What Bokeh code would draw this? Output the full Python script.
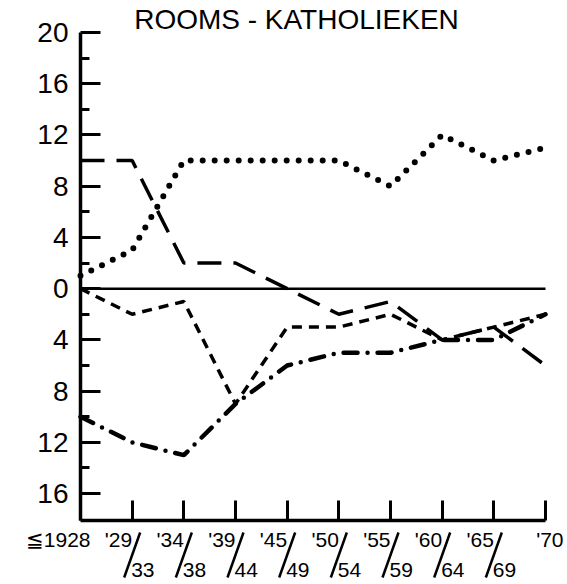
from bokeh.plotting import figure
from bokeh.models import Range1d, FixedTicker
from bokeh.core.properties import value
from bokeh.embed import file_html
from bokeh.resources import INLINE

# ---- data ----
periods = ["1928", "1929/33", "1934/38", "1939/44", "1945/49",
           "1950/54", "1955/59", "1960/64", "1965/69", "1970"]
top_labels = ["\u22661928", "'29", "'34", "'39", "'45", "'50", "'55",
              "'60", "'65", "'70"]
bottom_labels = ["", "33", "38", "44", "49", "54", "59", "64", "69", ""]

dotted = [1, 3, 10, 10, 10, 10, 8, 12, 10, 11]
long_dash = [10, 10, 2, 2, 0, -2, -1, -4, -3, -6]
short_dash = [0, -2, -1, -9, -3, -3, -2, -4, -3, -2]
dash_dot = [-10, -12, -13, -9, -6, -5, -5, -4, -4, -2]

y_major = [20, 16, 12, 8, 4, 0, -4, -8, -12, -16]
y_minor = [18, 14, 10, 6, 2, -2, -6, -10, -14]
y_low, y_high = -18.1, 20
title_text = "ROOMS - KATHOLIEKEN"

FONT = "Liberation Sans"
xs = list(range(len(periods)))
n = len(periods)

# ---- layout (frame fills whole canvas; axes placed at fixed locations) ----
W, H = 567, 584
left_px, right_px = 80, 545          # pixel of first / last category
top_px, bottom_px = 32, 520          # pixel of y_high / y_low
ppx = (right_px - left_px) / (n - 1)
ppy = (bottom_px - top_px) / (y_high - y_low)
x_start = xs[0] - left_px / ppx
x_end = x_start + W / ppx
y_end = y_high + top_px / ppy
y_start = y_end - H / ppy
BASE_FIX = 0.38   # baseline correction (fraction of font size)


def xpix(px):
    return x_start + px / ppx


def ypix(py, fs=0):
    return y_end - (py - BASE_FIX * fs) / ppy


p = figure(frame_width=W, frame_height=H, output_backend="svg",
           toolbar_location=None,
           x_range=Range1d(x_start, x_end), y_range=Range1d(y_start, y_end),
           min_border_left=0, min_border_right=0, min_border_top=0,
           min_border_bottom=0)
p.outline_line_color = None
p.grid.visible = False
p.background_fill_color = "white"
p.border_fill_color = "white"

# y axis
p.yaxis.fixed_location = xs[0]
p.yaxis.bounds = (y_low, y_high)
p.yaxis.ticker = FixedTicker(ticks=y_major, minor_ticks=y_minor)
p.yaxis.major_label_overrides = {v: str(abs(v)) for v in y_major}
p.yaxis.major_tick_in = 20
p.yaxis.major_tick_out = 0
p.yaxis.minor_tick_in = 9
p.yaxis.minor_tick_out = 0
p.yaxis.axis_line_width = 3.5
p.yaxis.major_tick_line_width = 3
p.yaxis.minor_tick_line_width = 3
p.yaxis.major_label_text_font = FONT
p.yaxis.major_label_text_font_size = "28px"
p.yaxis.major_label_text_color = "black"
p.yaxis.major_label_standoff = 12

# x axis
p.xaxis.fixed_location = y_low
p.xaxis.bounds = (xs[0], xs[-1])
p.xaxis.ticker = FixedTicker(ticks=xs, minor_ticks=[])
p.xaxis.major_tick_in = 20
p.xaxis.major_tick_out = 0
p.xaxis.axis_line_width = 3.5
p.xaxis.major_tick_line_width = 3
p.xaxis.major_label_text_font_size = "0px"
p.xaxis.major_label_text_color = None

# zero line
p.segment(x0=[xs[0]], y0=[0], x1=[xs[-1]], y1=[0], line_color="black",
          line_width=2.5)

# series
p.line(xs, dotted, line_color="black", line_width=6, line_dash="0 12",
       line_cap="round", line_join="round")
p.line(xs, long_dash, line_color="black", line_width=3.5, line_dash="24 12")
p.line(xs, short_dash, line_color="black", line_width=3.5, line_dash="10 7")
p.line(xs, dash_dot, line_color="black", line_width=4.5,
       line_dash="14 10 0 10", line_cap="round")

# x tick labels, two-line "fraction" style
LFS = 21
top_dx = [10] + [0] * (n - 2) + [18]
p.text(x=[x + d / ppx for x, d in zip(xs, top_dx)], y=[ypix(547, LFS)] * n,
       text=top_labels, text_align="right", text_baseline="alphabetic",
       text_font=value(FONT), text_font_size=f"{LFS}px", text_color="black")
mid = [i for i in xs if bottom_labels[i]]
p.segment(x0=[i + 8 / ppx for i in mid], y0=[ypix(532)] * len(mid),
          x1=[i - 8 / ppx for i in mid], y1=[ypix(577)] * len(mid),
          line_color="black", line_width=2.5)
p.text(x=[i - 1 / ppx for i in mid], y=[ypix(577, LFS)] * len(mid),
       text=[bottom_labels[i] for i in mid], text_align="left",
       text_baseline="alphabetic", text_font=value(FONT),
       text_font_size=f"{LFS}px", text_color="black")

# title
TFS = 28
p.text(x=[xpix(296)], y=[ypix(30, TFS)], text=[title_text],
       text_align="center", text_baseline="alphabetic",
       text_font=value(FONT), text_font_size=f"{TFS}px", text_color="black")

open("out.html", "w").write(file_html(p, INLINE))
